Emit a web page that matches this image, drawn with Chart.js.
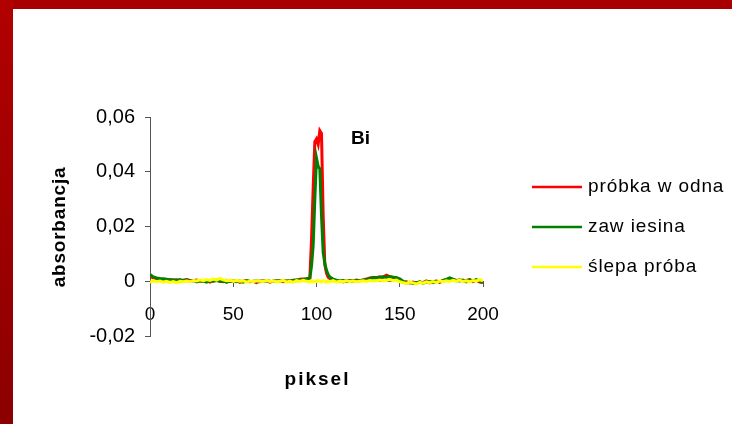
<!DOCTYPE html>
<html>
<head>
<meta charset="utf-8">
<script src="https://cdn.jsdelivr.net/npm/chart.js@4.4.1/dist/chart.umd.min.js"></script>
<style>
  html, body { margin: 0; padding: 0; background: #fff; }
  #wrap { position: relative; width: 732px; height: 424px; overflow: hidden; background: #fff; }
  #top { position: absolute; left: 0; top: 0; width: 732px; height: 9px; background: #a80000; }
  #left { position: absolute; left: 0; top: 0; width: 13px; height: 424px; background: linear-gradient(#b20000, #8c0000); }
  canvas { position: absolute; left: 0; top: 0; }
</style>
</head>
<body>
<div id="wrap">
  <div id="top"></div>
  <div id="left"></div>
  <canvas id="wykres" width="732" height="424"></canvas>
</div>
<script>
// piksel (oś X)
const piksel = [
  0, 2, 4, 6, 8, 10, 12, 14, 16, 18, 20, 22, 24, 26, 28, 30, 32, 34, 36, 38,
  40, 42, 44, 46, 48, 50, 52, 54, 56, 58, 60, 62, 64, 66, 68, 70, 72, 74, 76, 78,
  80, 82, 84, 86, 88, 90, 92, 94,
  96, 97, 98, 99, 100, 101, 102, 103, 104, 105, 106, 107, 108,
  110, 112, 114, 116, 118, 120, 122, 124, 126, 128, 130, 132, 134, 136, 138,
  140, 142, 144, 146, 148, 150, 152, 154, 156, 158, 160, 162, 164, 166, 168,
  170, 172, 174, 176, 178, 180, 182, 184, 186, 188, 190, 192, 194, 196, 198, 200
];

const probkaWodna = [
  0.0018, 0.0012, 0.0008, 0.0008, 0.0005, 0.0003, 0.0006, 0.0004, 0.0005, 0.0001,
  0.0004, 0.0006, 0.0003, 0.0002, 0.0004, 0.0001, 0, 0.0003, -0.0003, 0.0002,
  0.0004, 0.0001, -0.0002, 0.0003, 0, -0.0001, 0.0002, -0.0004, 0.0001, 0.0002,
  -0.0002, 0, -0.0005, 0.0001, 0, 0.0002, -0.0003, 0.0001, 0, 0.0002,
  -0.0002, 0.0001, 0.0002, 0.0004, 0.0002, 0.0007, 0.0008, 0.0009,
  0.0012, 0.015, 0.034, 0.051, 0.052, 0.05, 0.055, 0.054, 0.024, 0.006, 0.003, 0.0015, 0.0008,
  0.0004, 0.0001, 0.0003, -0.0002, 0.0002, 0.0003, 0, 0.0004, 0.0002, 0.0005,
  0.0008, 0.0012, 0.0014, 0.0013, 0.0016, 0.0015, 0.0022, 0.0017, 0.0014, 0.0012,
  0.0004, -0.0004, -0.0002, -0.0006, -0.0003, -0.0008, -0.0003, -0.0005, 0.0001, -0.0006,
  -0.0002, 0.0001, -0.0004, 0.0002, 0.0006, 0.0009, 0.0004, 0.0002, 0.0005, 0.0001,
  0.0003, 0.0006, -0.0001, 0.0004, -0.0003, -0.0005
];

const zawiesina = [
  0.0025, 0.0016, 0.0012, 0.001, 0.0009, 0.0007, 0.0004, 0.0005, 0.0003, 0.0006,
  0.0002, 0.0004, 0.0001, 0.0003, -0.0002, 0.0002, 0.0001, -0.0003, 0.0002, 0,
  0.0003, -0.0001, 0.0001, -0.0004, 0.0002, 0, -0.0002, 0.0001, -0.0003, 0.0002,
  0, -0.0001, 0.0002, -0.0002, 0.0001, 0.0003, 0, -0.0001, 0.0002, 0.0001,
  0.0003, 0, 0.0002, 0.0003, 0.0005, 0.0004, 0.0006, 0.0008,
  0.0012, 0.0055, 0.013, 0.03, 0.045, 0.042, 0.041, 0.024, 0.0105, 0.0065, 0.004, 0.0025, 0.0015,
  0.0008, 0.0004, 0.0002, 0.0003, -0.0001, 0.0002, 0.0001, 0.0003, 0.0002, 0.0004,
  0.0006, 0.001, 0.0013, 0.0014, 0.0013, 0.0016, 0.0015, 0.0017, 0.0015, 0.0013,
  0.0009, 0, -0.0006, -0.0004, -0.0008, -0.0005, -0.0002, -0.0007, -0.0003, -0.0001,
  -0.0005, 0, -0.0002, 0.0003, 0.0007, 0.0012, 0.0008, 0.0003, 0.0001, 0.0004,
  -0.0002, 0.0005, 0.0001, 0.0006, 0, -0.0004
];

const slepaProba = [
  -0.0004, 0.0002, -0.0002, 0.0001, -0.0003, 0, -0.0004, -0.0001, -0.0005, 0,
  -0.0002, 0.0001, -0.0002, 0.0003, 0.0001, 0.0005, 0.0002, 0.0006, 0.0003, 0.0008,
  0.0004, 0.001, 0.0005, 0.0002, 0.0004, -0.0001, 0.0003, 0, 0.0002, -0.0003,
  0.0001, -0.0002, 0.0002, 0, -0.0001, 0.0003, -0.0001, 0.0001, -0.0002, 0,
  0.0003, -0.0003, 0.0001, -0.0004, 0.0002, -0.0001, 0.0003, 0,
  -0.0003, 0.0002, -0.0002, 0.0001, -0.0001, 0.0003, 0, -0.0002, 0.0002, 0, -0.0003, 0.0001, -0.0002,
  0.0002, -0.0003, 0.0001, -0.0002, 0.0002, -0.0001, 0.0001, -0.0002, 0, 0.0002,
  -0.0001, 0.0003, 0.0001, 0.0002, 0.0004, 0.0001, 0.0003, 0.0006, 0.0002, 0.0004,
  -0.0002, -0.0005, -0.0008, -0.0003, -0.0006, -0.001, -0.0004, -0.0007, -0.0002, -0.0005,
  -0.0001, -0.0004, 0.0001, -0.0002, 0.0002, -0.0001, 0.0003, 0, 0.0004, -0.0001,
  0.0002, -0.0002, 0.0003, 0.0001, 0.0005, 0.0002
];

const serie = ["próbka w odna", "zaw iesina", "ślepa próba"];
const kolory = ["#ff0000", "#008000", "#ffff00"];
const xTicks = [0, 50, 100, 150, 200];
const yTicks = [-0.02, 0, 0.02, 0.04, 0.06];
const tytulX = "piksel";
const tytulY = "absorbancja";
const etykieta = "Bi";

const FONT = '"Liberation Sans", Arial, sans-serif';
const AXIS = "#555555";

function punkty(wartosci) {
  return piksel.map((x, i) => ({ x, y: wartosci[i] }));
}

// legenda, tytuły osi i etykieta "Bi"
const dodatki = {
  id: "dodatki",
  afterDraw(chart) {
    const { ctx, chartArea } = chart;
    ctx.save();
    ctx.fillStyle = "#000";

    ctx.font = "bold 19px " + FONT;
    ctx.letterSpacing = "0.8px";
    ctx.textAlign = "center";
    ctx.textBaseline = "middle";
    ctx.save();
    ctx.translate(60, 227);
    ctx.rotate(-Math.PI / 2);
    ctx.fillText(tytulY, 0, 0);
    ctx.restore();

    ctx.letterSpacing = "2px";
    ctx.fillText(tytulX, (chartArea.left + chartArea.right) / 2 + 1, 380);

    ctx.letterSpacing = "0px";
    ctx.textAlign = "left";
    ctx.fillText(etykieta, 351, 139);

    ctx.font = "19px " + FONT;
    ctx.letterSpacing = "0.9px";
    serie.forEach((nazwa, i) => {
      const y = 187 + i * 40;
      ctx.strokeStyle = kolory[i];
      ctx.lineWidth = 2.5;
      ctx.beginPath();
      ctx.moveTo(532, y);
      ctx.lineTo(582, y);
      ctx.stroke();
      ctx.fillText(nazwa, 588, y);
    });
    ctx.restore();
  }
};

new Chart(document.getElementById("wykres"), {
  type: "line",
  data: {
    datasets: serie.map((nazwa, i) => ({
      label: nazwa,
      data: punkty([probkaWodna, zawiesina, slepaProba][i]),
      borderColor: kolory[i],
      backgroundColor: kolory[i],
      borderWidth: 3,
      pointRadius: 0,
      tension: 0,
      order: 3 - i
    }))
  },
  options: {
    responsive: false,
    animation: false,
    events: [],
    layout: { padding: { top: 117, right: 249, bottom: 88, left: 0 } },
    plugins: { legend: { display: false }, tooltip: { enabled: false } },
    scales: {
      x: {
        type: "linear",
        position: { y: 0 },
        min: 0,
        max: 200,
        afterBuildTicks(scale) { scale.ticks = xTicks.map((v) => ({ value: v })); },
        ticks: {
          color: "#000",
          padding: 17,
          maxRotation: 0,
          font: { family: FONT, size: 19 }
        },
        grid: { drawOnChartArea: false, drawTicks: true, tickLength: 5, color: AXIS },
        border: { color: AXIS, width: 1 }
      },
      y: {
        min: -0.02,
        max: 0.06,
        afterBuildTicks(scale) { scale.ticks = yTicks.map((v) => ({ value: v })); },
        afterFit(scale) { scale.width = 150; },
        ticks: {
          color: "#000",
          padding: 10,
          font: { family: FONT, size: 20 },
          callback: (v) => (v === 0 ? "0" : v.toFixed(2).replace(".", ","))
        },
        grid: { drawOnChartArea: false, drawTicks: true, tickLength: 5, color: AXIS },
        border: { color: AXIS, width: 1 }
      }
    }
  },
  plugins: [dodatki]
});
</script>
</body>
</html>
